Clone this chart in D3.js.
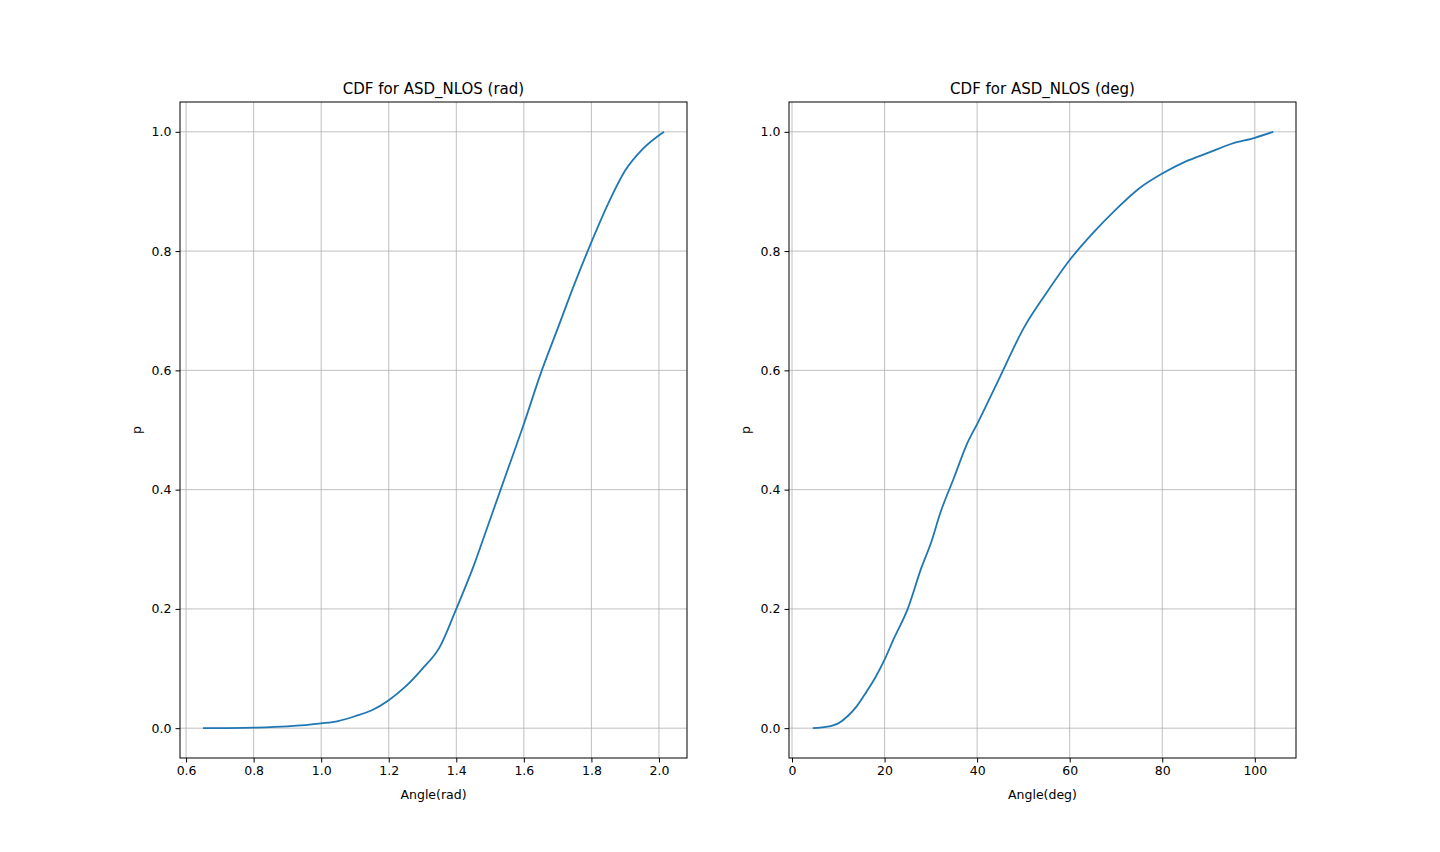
<!DOCTYPE html>
<html><head><meta charset="utf-8">
<script src="https://cdn.jsdelivr.net/npm/d3@7"></script>
<style>body{margin:0;background:#fff}text{font-family:"DejaVu Sans",sans-serif}</style>
</head><body>
<script>
// CDF readings, left panel (radians)
const radX = [0.65,0.8,0.9,1.0,1.05,1.1,1.15,1.2,1.25,1.3,1.35,1.4,1.45,1.5,1.55,1.6,1.65,1.7,1.75,1.8,1.85,1.9,1.95,2.015];
const radP = [0,0.001,0.003,0.008,0.012,0.02,0.03,0.047,0.07,0.1,0.135,0.2,0.27,0.35,0.43,0.51,0.595,0.67,0.745,0.815,0.88,0.935,0.97,1.0];
// right panel (degrees)
const degX = [4.5,8,10,12,14,16,18,20,22,25,28,30,32,35,38,40,45,50,55,60,65,70,75,80,85,90,95,100,104];
const degP = [0,0.003,0.008,0.02,0.037,0.06,0.085,0.115,0.15,0.2,0.27,0.31,0.36,0.42,0.48,0.51,0.59,0.67,0.73,0.785,0.83,0.87,0.905,0.93,0.95,0.965,0.98,0.99,1.0];
const radTicks = [0.6,0.8,1.0,1.2,1.4,1.6,1.8,2.0];
const degTicks = [0,20,40,60,80,100];
const pTicks = [0,0.2,0.4,0.6,0.8,1.0];

const svg = d3.select("body").append("svg").attr("width",1440).attr("height",852);

function panel(left, xs, ps, dom, ticks, fmt, title, xlabel){
  const x = d3.scaleLinear().domain(dom).range([left, left+507]);
  const y = d3.scaleLinear().domain([-0.05,1.05]).range([758,102]);
  const g = svg.append("g");
  g.selectAll(".gx").data(ticks).join("line")
    .attr("x1",d=>x(d)).attr("x2",d=>x(d)).attr("y1",102).attr("y2",758)
    .attr("stroke","#b0b0b0").attr("stroke-width",0.8);
  g.selectAll(".gy").data(pTicks).join("line")
    .attr("y1",d=>y(d)).attr("y2",d=>y(d)).attr("x1",left).attr("x2",left+507)
    .attr("stroke","#b0b0b0").attr("stroke-width",0.8);
  g.append("path").datum(xs.map((v,i)=>[v,ps[i]]))
    .attr("d",d3.line().curve(d3.curveMonotoneX).x(d=>x(d[0])).y(d=>y(d[1])))
    .attr("fill","none").attr("stroke","#1f77b4").attr("stroke-width",1.8);
  const ax = g.append("g").attr("transform","translate(0,758)")
    .call(d3.axisBottom(x).tickValues(ticks).tickFormat(fmt).tickSize(4.5).tickPadding(4));
  const ay = g.append("g").attr("transform",`translate(${left},0)`)
    .call(d3.axisLeft(y).tickValues(pTicks).tickFormat(d3.format(".1f")).tickSize(4.5).tickPadding(4));
  [ax,ay].forEach(a=>{a.select(".domain").remove();a.selectAll("text").attr("font-size",12.5).attr("fill","#000");});
  g.append("rect").attr("x",left).attr("y",102).attr("width",507).attr("height",656)
    .attr("fill","none").attr("stroke","#000").attr("stroke-width",1);
  g.append("text").attr("x",left+253.5).attr("y",94).attr("text-anchor","middle").attr("font-size",15).text(title);
  g.append("text").attr("x",left+253.5).attr("y",799).attr("text-anchor","middle").attr("font-size",12.5).text(xlabel);
  g.append("text").attr("transform",`translate(${left-39},430) rotate(-90)`).attr("text-anchor","middle").attr("font-size",12.5).text("p");
}
panel(180, radX, radP, [0.582,2.083], radTicks, d3.format(".1f"), "CDF for ASD_NLOS (rad)", "Angle(rad)");
panel(789, degX, degP, [-0.65,108.9], degTicks, d3.format("d"), "CDF for ASD_NLOS (deg)", "Angle(deg)");
</script>
</body></html>
